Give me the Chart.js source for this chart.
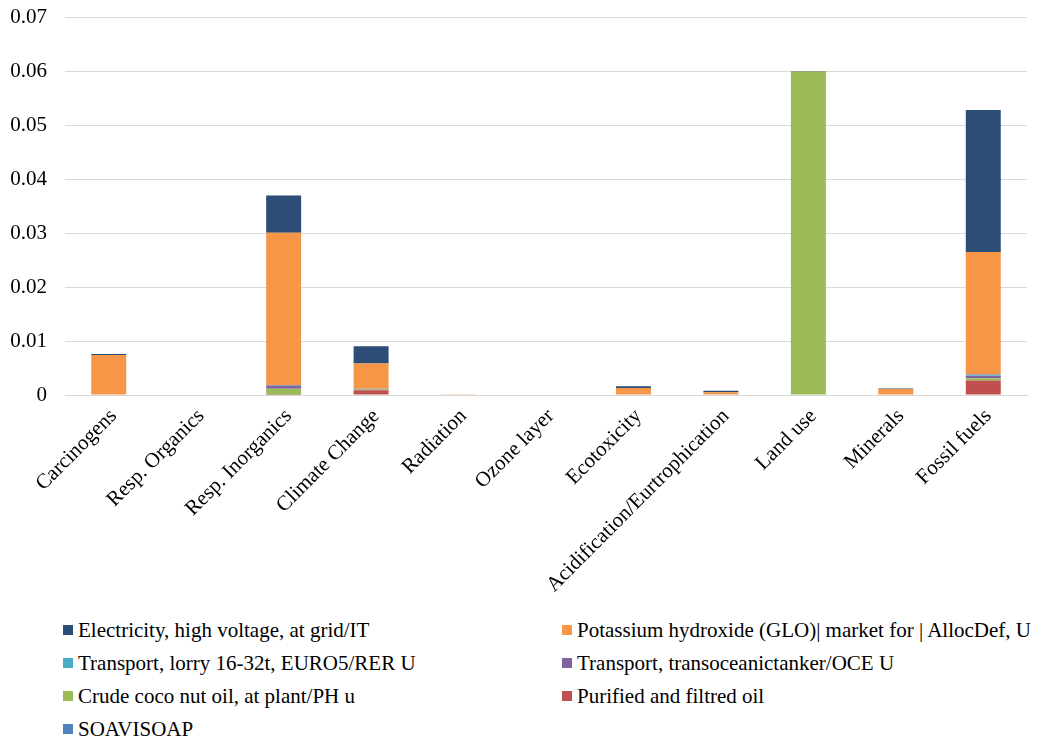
<!DOCTYPE html>
<html>
<head>
<meta charset="utf-8">
<script src="https://cdn.jsdelivr.net/npm/chart.js@4.4.0/dist/chart.umd.min.js"></script>
<style>
  body{margin:0;background:#fff;width:1052px;height:742px;overflow:hidden;font-family:'Liberation Serif','Times New Roman',Times,serif;}
  #wrap{position:absolute;left:0;top:0;width:1052px;height:605px;}
  #legend{position:absolute;left:0;top:614px;width:1052px;}
  .item{position:absolute;font-size:21px;color:#000;line-height:32px;height:32px;white-space:nowrap;}
  .item span.box{display:inline-block;width:10px;height:10px;margin-right:5px;vertical-align:middle;position:relative;top:-2px;}
</style>
</head>
<body>
<div id="wrap"><canvas id="chart"></canvas></div>
<div id="legend"></div>
<script>
const categories=["Carcinogens","Resp. Organics","Resp. Inorganics","Climate Change","Radiation","Ozone layer","Ecotoxicity","Acidification/Eurtrophication","Land use","Minerals","Fossil fuels"];

// series, bottom of the stack first
const purifiedOil=[0,0,0.00005,0.0009,0,0,0,0,0,0,0.0027];
const cocoOil=[0,0,0.0011,0.0001,0,0,0,0,0.0599,0,0.0004];
const tanker=[0,0,0.0006,0.0001,0,0,0,0,0,0,0.0004];
const lorry=[0,0,0.0001,0.00005,0,0,0,0,0,0,0.0001];
const soavisoap=[0,0,0,0,0,0,0,0,0,0,0.0002];
const potassium=[0.0074,0,0.0282,0.0047,0.00003,0,0.0013,0.0005,0,0.0011,0.0227];
const electricity=[0.0002,0,0.0069,0.0032,0.00002,0,0.0003,0.0003,0.0001,0.0001,0.0263];

const yTicks=[0,0.01,0.02,0.03,0.04,0.05,0.06,0.07];

const series=[
  {label:"Purified and filtred oil",data:purifiedOil,color:"#C0504D"},
  {label:"Crude coco nut oil, at plant/PH u",data:cocoOil,color:"#9BBB59"},
  {label:"Transport, transoceanictanker/OCE U",data:tanker,color:"#8064A2"},
  {label:"Transport, lorry 16-32t, EURO5/RER U",data:lorry,color:"#4BACC6"},
  {label:"SOAVISOAP",data:soavisoap,color:"#4F81BD"},
  {label:"Potassium hydroxide (GLO)| market for | AllocDef, U",data:potassium,color:"#F79646"},
  {label:"Electricity, high voltage, at grid/IT",data:electricity,color:"#2C4D75"}
];

// legend order as shown under the chart
const legendOrder=[
  "Electricity, high voltage, at grid/IT",
  "Potassium hydroxide (GLO)| market for | AllocDef, U",
  "Transport, lorry 16-32t, EURO5/RER U",
  "Transport, transoceanictanker/OCE U",
  "Crude coco nut oil, at plant/PH u",
  "Purified and filtred oil",
  "SOAVISOAP"
];

const font="'Liberation Serif','Times New Roman',Times,serif";

new Chart(document.getElementById("chart"),{
  type:"bar",
  data:{
    labels:categories,
    datasets:series.map(s=>({
      label:s.label,
      data:s.data,
      backgroundColor:s.color,
      borderWidth:0,
      categoryPercentage:1,
      barPercentage:0.4
    }))
  },
  options:{
    responsive:true,
    maintainAspectRatio:false,
    animation:false,
    layout:{padding:{top:17,right:25,left:0,bottom:0}},
    plugins:{legend:{display:false},tooltip:{enabled:false}},
    scales:{
      x:{
        stacked:true,
        grid:{display:false,drawTicks:false},
        border:{color:"#d9d9d9",width:1},
        ticks:{color:"#000",font:{family:font,size:21},minRotation:45,maxRotation:45,padding:9,labelOffset:5,autoSkip:false},
        afterFit:function(scale){scale.height=210;scale.paddingTop=0;}
      },
      y:{
        stacked:true,
        min:0,max:0.07,
        afterBuildTicks:function(scale){scale.ticks=yTicks.map(v=>({value:v}));},
        grid:{color:"#d9d9d9",lineWidth:1,drawTicks:false},
        border:{display:false},
        ticks:{color:"#000",font:{family:font,size:21},padding:18,callback:v=>String(+v.toFixed(2))},
        afterFit:function(scale){scale.width=65;scale.paddingTop=0;scale.paddingBottom=0;}
      }
    }
  }
});

// html legend, two columns
const legend=document.getElementById("legend");
legendOrder.forEach((name,i)=>{
  const s=series.find(x=>x.label===name);
  const d=document.createElement("div");
  d.className="item";
  d.style.left=(i%2===0?63:562)+"px";
  d.style.top=(Math.floor(i/2)*33)+"px";
  d.innerHTML='<span class="box" style="background:'+s.color+'"></span>'+name;
  legend.appendChild(d);
});
</script>
</body>
</html>
